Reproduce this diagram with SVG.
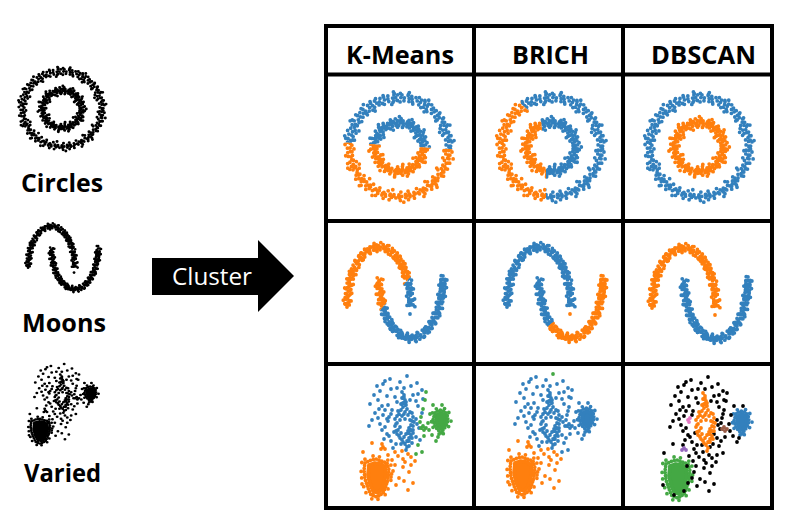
<svg xmlns="http://www.w3.org/2000/svg" width="796" height="526" viewBox="0 0 796 526">
<style>
.b{stroke:#3380bd;fill:#3380bd}
.o{stroke:#ff7f0e;fill:#ff7f0e}
.g{stroke:#44a844;fill:#44a844}
.k{stroke:#000;fill:#000}
.pk{stroke:#e377c2;fill:#e377c2}
.br{stroke:#9a5d48;fill:#9a5d48}
.pu{stroke:#9467bd;fill:#9467bd}
.hdr{font-family:"Open Sans","Liberation Sans",sans-serif;font-weight:700;font-size:25px;fill:#000}
.gl{fill:none;stroke:#000;stroke-width:4}
</style>
<defs>
<!-- circles dataset -->
<g id="ringO" fill="none" stroke-width="3.8" stroke-linecap="round">
<circle r="49.4" cx="0.5" stroke-dasharray="0 3.6 0 4.7 0 3.1 0 5.3"/>
<circle r="51.6" cy="-0.6" stroke-dasharray="0 4.4 0 6.1 0 3.8" stroke-dashoffset="1.7"/>
<circle r="47.2" cy="0.7" stroke-dasharray="0 5.0 0 3.7 0 6.6" stroke-dashoffset="2.4"/>
<circle r="53.6" cx="-0.4" stroke-dasharray="0 8.1 0 11.4 0 6.2" stroke-dashoffset="3"/>
<circle r="45.1" stroke-dasharray="0 8.8 0 7.2 0 12.9" stroke-dashoffset="5"/>
<circle r="55.4" stroke-dasharray="0 21 0 33 0 16" stroke-dashoffset="9"/>
<circle r="43.2" stroke-dasharray="0 26 0 18 0 34" stroke-dashoffset="4"/>
</g>
<g id="ringI" fill="none" stroke-width="3.8" stroke-linecap="round">
<circle r="24.2" stroke-dasharray="0 2.5 0 3.2 0 2.1 0 3.7"/>
<circle r="26.3" cx="0.4" stroke-dasharray="0 3.3 0 2.6 0 4.3" stroke-dashoffset="1.3"/>
<circle r="22.1" cy="0.4" stroke-dasharray="0 3.7 0 2.8 0 4.5" stroke-dashoffset="2.2"/>
<circle r="28.4" stroke-dasharray="0 5.9 0 8.0 0 5.1" stroke-dashoffset="3.1"/>
<circle r="19.9" stroke-dasharray="0 7.1 0 5.0 0 9.3" stroke-dashoffset="1"/>
<circle r="30.3" stroke-dasharray="0 16 0 23 0 13"/>
<circle r="17.9" stroke-dasharray="0 18 0 12 0 24" stroke-dashoffset="6"/>
</g>
<!-- moons dataset -->
<path id="mU" d="M22 86A32 60 0 0 1 86 86"/>
<path id="mL" d="M54 57A32 60 0 0 0 118 57"/>
<g id="moonU" fill="none" stroke-width="3.8" stroke-linecap="round">
<use href="#mU" stroke-dasharray="0 3.9 0 4.8 0 3.3"/>
<use href="#mU" transform="translate(2.2 1.5)" stroke-dasharray="0 5.1 0 4.3 0 6.2" stroke-dashoffset="1.5"/>
<use href="#mU" transform="translate(-2.2 -1.5)" stroke-dasharray="0 4.7 0 5.9 0 4.1" stroke-dashoffset="2.7"/>
<use href="#mU" transform="translate(-1.8 2.6)" stroke-dasharray="0 6.3 0 4.9 0 5.4" stroke-dashoffset="0.8"/>
<use href="#mU" transform="translate(1.8 -2.6)" stroke-dasharray="0 5.6 0 6.8 0 4.4" stroke-dashoffset="3.3"/>
<use href="#mU" transform="translate(0 4.4)" stroke-dasharray="0 9.5 0 7.1 0 12" stroke-dashoffset="2"/>
<use href="#mU" transform="translate(0 -4.4)" stroke-dasharray="0 8.7 0 11.3 0 6.9" stroke-dashoffset="5"/>
<use href="#mU" transform="translate(3.9 0)" stroke-dasharray="0 10.1 0 7.7 0 8.9" stroke-dashoffset="4"/>
<use href="#mU" transform="translate(-3.9 0)" stroke-dasharray="0 7.9 0 12.2 0 9.3" stroke-dashoffset="1"/>
</g>
<g id="moonL" fill="none" stroke-width="3.8" stroke-linecap="round">
<use href="#mL" stroke-dasharray="0 3.7 0 4.5 0 3.4" stroke-dashoffset="1.1"/>
<use href="#mL" transform="translate(2.2 -1.5)" stroke-dasharray="0 4.9 0 5.6 0 4.2" stroke-dashoffset="2.3"/>
<use href="#mL" transform="translate(-2.2 1.5)" stroke-dasharray="0 5.3 0 4.1 0 6.0" stroke-dashoffset="0.4"/>
<use href="#mL" transform="translate(-1.8 -2.6)" stroke-dasharray="0 6.1 0 5.2 0 4.8" stroke-dashoffset="3.6"/>
<use href="#mL" transform="translate(1.8 2.6)" stroke-dasharray="0 5.4 0 6.6 0 4.6" stroke-dashoffset="1.9"/>
<use href="#mL" transform="translate(0 4.4)" stroke-dasharray="0 8.9 0 11.6 0 7.2" stroke-dashoffset="4"/>
<use href="#mL" transform="translate(0 -4.4)" stroke-dasharray="0 10.3 0 7.4 0 9.8" stroke-dashoffset="2.5"/>
<use href="#mL" transform="translate(3.9 0)" stroke-dasharray="0 7.6 0 12.4 0 8.8" stroke-dashoffset="6"/>
<use href="#mL" transform="translate(-3.9 0)" stroke-dasharray="0 11.2 0 8.1 0 9.4" stroke-dashoffset="3"/>
</g>
<path id="moonDot" d="M85 93h0" fill="none" stroke-width="3.8" stroke-linecap="round"/>
<!-- varied dataset -->
<path id="vCore" fill="none" stroke-width="3.8" stroke-linecap="round" d="M77 28h0M79 31h0M77 34h0M80 36h0M78 39h0M81 41h0M78 43h0M82 45h0M76 46h0M80 48h0M85 48h0M74 50h0M72 52h0M77 52h0M83 51h0M88 53h0M70 55h0M75 56h0M80 55h0M85 56h0M89 58h0M72 59h0M86 61h0M70 62h0M75 63h0M84 64h0M73 66h0M83 67h0M88 66h0M76 69h0M81 70h0M86 71h0M74 72h0M79 73h0M84 74h0M77 76h0M82 77h0M80 80h0M82 83h0M73 47h0M87 49h0M79 50h0M87 57h0M71 60h0M88 62h0M86 66h0M71 67h0M84 69h0M72 70h0M87 74h0M75 74h0M84 77h0M78 78h0M81 86h0M79 33h0M81 38h0M76 40h0"/>
<path id="vMain" fill="none" stroke-width="3.8" stroke-linecap="round" d="M65 15h0M58 20h0M52 22h0M66 25h0M72 24h0M86 22h0M97 26h0M49 31h0M62 32h0M70 33h0M88 31h0M53 36h0M72 38h0M91 37h0M63 41h0M93 42h0M67 46h0M50 49h0M58 51h0M66 50h0M47 56h0M55 60h0M91 55h0M97 49h0M62 70h0M69 68h0M92 60h0M88 69h0M91 73h0M66 77h0M76 80h0M84 82h0M60 17h0M75 18h0M92 19h0M55 27h0M79 24h0M93 30h0M45 40h0M57 42h0M85 36h0M60 46h0M53 54h0M44 62h0M60 63h0M94 64h0M57 66h0M95 76h0M64 72h0M59 75h0M71 80h0M87 79h0M68 84h0M54 45h0M98 35h0"/>
<path id="vRight" fill="none" stroke-width="3.8" stroke-linecap="round" d="M101 28h0M100 36h0M108 41h0M117 41h0M98 45h0M96 53h0M103 59h0M104 66h0M107 71h0M113 73h0M99 72h0M93 81h0M97 88h0M91 90h0M105 50h0M111 77h0M95 58h0"/>
<path id="vLow" fill="none" stroke-width="3.8" stroke-linecap="round" d="M47 79h0M57 80h0M38 88h0M70 88h0M77 87h0M83 90h0M67 96h0M78 95h0M86 93h0M90 97h0M70 101h0M78 103h0M68 107h0M84 108h0M74 114h0M88 119h0M83 126h0M58 126h0M37 120h0M48 130h0M63 91h0M73 92h0M61 101h0M80 98h0M66 113h0M79 117h0M71 121h0M62 118h0M86 101h0"/>
<path id="vBrown" fill="none" stroke-width="3.8" stroke-linecap="round" d="M96 64h0M99 66h0M101 64h0M98 62h0"/>
<path id="vPink" fill="none" stroke-width="3.8" stroke-linecap="round" d="M62 55h0M64 53h0M63 57h0"/>
<path id="vPurple" fill="none" stroke-width="3.8" stroke-linecap="round" d="M56 85h0M58 83h0M60 85h0"/>
<path id="vTop" fill="none" stroke-width="3.8" stroke-linecap="round" d="M82 12h0"/>
<g id="vRB" stroke-width="3.8" stroke-linecap="round" stroke-linejoin="round">
<path d="M112 51L116 49L120 51L121 57L119 62L116 65L113 62L111 57Z"/>
<path fill="none" stroke-dasharray="0 3.2" d="M110 49L114 46L119 47L122 50L123 56L121 62L118 66L116 69L113 66L110 62L108 56Z"/>
<path fill="none" stroke-dasharray="0 6 0 9" stroke-dashoffset="2" d="M108 47L114 43L121 45L125 50L126 57L123 64L119 69L116 72L111 67L107 62L106 54Z"/>
</g>
<g id="vBL" stroke-width="3.8" stroke-linecap="round" stroke-linejoin="round">
<path d="M44 101L50 99L56 100L60 103L61 110L59 118L57 125L53 129L48 127L45 120L43 111Z"/>
<path fill="none" stroke-dasharray="0 3" d="M40 99L46 96L51 95L56 97L62 99L64 106L63 114L61 122L58 129L52 133L46 131L43 124L40 115L39 106Z"/>
<path fill="none" stroke-dasharray="0 6.5 0 9" stroke-dashoffset="3" d="M37 97L45 92L52 92L58 94L65 97L67 106L66 116L63 125L59 133L51 136L44 134L40 127L37 117L36 106Z"/>
</g>
<!-- clips -->
<clipPath id="kmCo"><polygon points="-70,-5.6 70,3.3 70,70 -70,70"/></clipPath>
<clipPath id="kmCb"><polygon points="-70,-70 70,-70 70,3.3 -70,-5.6"/></clipPath>
<clipPath id="brCo"><polygon points="-70,-70 -36,-70 -30,-43 -10,-26 -5,20 -5,70 -70,70"/></clipPath>
<clipPath id="brCb"><polygon points="-36,-70 70,-70 70,70 -5,70 -5,20 -10,-26 -30,-43"/></clipPath>
<clipPath id="kmL"><polygon points="-20,-20 155.7,-20 -9.9,160 -20,160"/></clipPath>
<clipPath id="kmR"><polygon points="155.7,-20 200,-20 200,160 -9.9,160"/></clipPath>
<clipPath id="brO"><polygon points="54,113 78,93 78,-10 200,-10 200,200 54,200"/></clipPath>
<clipPath id="brB"><polygon points="-10,-10 78,-10 78,93 54,113 54,200 -10,200"/></clipPath>
</defs>
<rect width="796" height="526" fill="#fff"/>

<!-- left datasets -->
<g id="icon-circles" transform="translate(62 109) scale(0.8 0.76)">
<use href="#ringO" class="k"/><use href="#ringI" class="k"/>
</g>
<g id="label-circles"><text class="hdr" x="21" y="192" textLength="82" lengthAdjust="spacingAndGlyphs">Circles</text></g>
<g id="icon-moons" transform="translate(12 208.4) scale(0.73 0.69)">
<use href="#moonU" class="k"/><use href="#moonL" class="k"/><use href="#moonDot" class="k"/>
</g>
<g id="label-moons"><text class="hdr" x="22" y="332" textLength="84" lengthAdjust="spacingAndGlyphs">Moons</text></g>
<g id="icon-varied" transform="translate(0.2 356) scale(0.78 0.66)">
<use href="#vRB" class="k"/><use href="#vBL" class="k"/><use href="#vCore" class="k"/><use href="#vMain" class="k"/><use href="#vRight" class="k"/><use href="#vLow" class="k"/><use href="#vBrown" class="k"/><use href="#vPink" class="k"/><use href="#vPurple" class="k"/><use href="#vTop" class="k"/>
</g>
<g id="label-varied"><text class="hdr" x="24" y="482" textLength="77" lengthAdjust="spacingAndGlyphs">Varied</text></g>

<!-- connector: Cluster arrow -->
<g id="connectors">
<polygon points="152,258 258,258 258,240 294,276 258,312 258,295 152,295" fill="#000"/>
<text x="172" y="285" font-family="'Open Sans','Liberation Sans',sans-serif" font-size="24" fill="#fff" textLength="80" lengthAdjust="spacingAndGlyphs">Cluster</text>
</g>

<!-- result grid -->
<g id="header">
<text class="hdr" x="346" y="64" textLength="108" lengthAdjust="spacingAndGlyphs">K-Means</text>
<text class="hdr" x="512" y="64" textLength="77" lengthAdjust="spacingAndGlyphs">BRICH</text>
<text class="hdr" x="651" y="64" textLength="105" lengthAdjust="spacingAndGlyphs">DBSCAN</text>
</g>

<g id="kmeans-circles" transform="translate(399 147)">
<use href="#ringO" class="b" clip-path="url(#kmCb)"/><use href="#ringI" class="b" clip-path="url(#kmCb)"/>
<use href="#ringO" class="o" clip-path="url(#kmCo)"/><use href="#ringI" class="o" clip-path="url(#kmCo)"/>
</g>
<g id="brich-circles" transform="translate(551 147)">
<use href="#ringO" class="b" clip-path="url(#brCb)"/><use href="#ringI" class="b" clip-path="url(#brCb)"/>
<use href="#ringO" class="o" clip-path="url(#brCo)"/><use href="#ringI" class="o" clip-path="url(#brCo)"/>
</g>
<g id="dbscan-circles" transform="translate(699 147)">
<use href="#ringO" class="b"/><use href="#ringI" class="o"/>
</g>

<g id="kmeans-moons" transform="translate(325 221)">
<use href="#moonU" class="o" clip-path="url(#kmL)"/><use href="#moonL" class="o" clip-path="url(#kmL)"/>
<use href="#moonU" class="b" clip-path="url(#kmR)"/><use href="#moonL" class="b" clip-path="url(#kmR)"/>
<use href="#moonDot" class="b"/>
</g>
<g id="brich-moons" transform="translate(485 221)">
<use href="#moonU" class="b"/>
<use href="#moonL" class="b" clip-path="url(#brB)"/><use href="#moonL" class="o" clip-path="url(#brO)"/>
<use href="#moonDot" class="o"/>
</g>
<g id="dbscan-moons" transform="translate(630 222)">
<use href="#moonU" class="o"/><use href="#moonL" class="b"/><use href="#moonDot" class="o"/>
</g>

<g id="kmeans-varied" transform="translate(325 364)">
<use href="#vRB" class="g"/><use href="#vBL" class="o"/>
<use href="#vCore" class="b"/><use href="#vMain" class="b"/><use href="#vPink" class="b"/><use href="#vTop" class="b"/>
<use href="#vRight" class="g"/><use href="#vBrown" class="g"/>
<use href="#vLow" class="o"/><use href="#vPurple" class="o"/>
</g>
<g id="brich-varied" transform="translate(471 362)">
<use href="#vRB" class="b"/><use href="#vBL" class="o"/>
<use href="#vCore" class="b"/><use href="#vMain" class="b"/><use href="#vPink" class="b"/><use href="#vRight" class="b"/><use href="#vBrown" class="b"/>
<use href="#vLow" class="o"/><use href="#vPurple" class="o"/><use href="#vTop" class="g"/>
</g>
<g id="dbscan-varied" transform="translate(626 365)">
<use href="#vRB" class="b"/><use href="#vBL" class="g"/>
<use href="#vMain" class="k"/><use href="#vRight" class="k"/><use href="#vLow" class="k"/><use href="#vTop" class="k"/>
<use href="#vCore" class="o"/><use href="#vPink" class="pk"/><use href="#vBrown" class="br"/><use href="#vPurple" class="pu"/>
</g>

<g id="grid">
<rect class="gl" x="326" y="26" width="446" height="482"/>
<line class="gl" x1="326" y1="74.5" x2="772" y2="74.5"/>
<line class="gl" x1="326" y1="221" x2="772" y2="221"/>
<line class="gl" x1="326" y1="364" x2="772" y2="364"/>
<line class="gl" x1="474" y1="26" x2="474" y2="508"/>
<line class="gl" x1="623" y1="26" x2="623" y2="508"/>
</g>
</svg>
